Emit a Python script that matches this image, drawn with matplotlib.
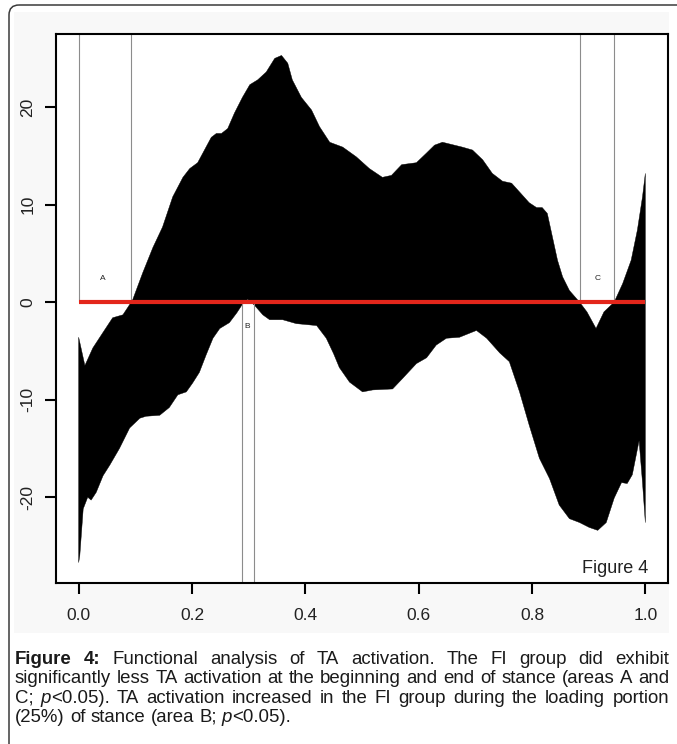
import re
import numpy as np
import matplotlib
matplotlib.use('Agg')
import matplotlib.pyplot as plt
from matplotlib.patches import Rectangle, FancyBboxPatch

plt.rcParams['font.family'] = ['Liberation Sans', 'DejaVu Sans']

# upper edge of the black band
upper_x = [0.0, 0.011, 0.025, 0.043, 0.06, 0.078, 0.086, 0.095, 0.113, 0.131, 0.148,
           0.166, 0.184, 0.196, 0.21, 0.222, 0.234, 0.243, 0.252, 0.263, 0.275, 0.289,
           0.302, 0.316, 0.331, 0.346, 0.358, 0.369, 0.377, 0.393, 0.411, 0.425, 0.443,
           0.466, 0.49, 0.513, 0.536, 0.552, 0.57, 0.596, 0.614, 0.628, 0.642, 0.677,
           0.695, 0.713, 0.73, 0.748, 0.764, 0.778, 0.795, 0.808, 0.818, 0.827, 0.836,
           0.845, 0.854, 0.866, 0.878, 0.884, 0.897, 0.913, 0.927, 0.945, 0.96, 0.975,
           0.986, 0.995, 1.0]
upper_y = [-3.6, -6.5, -4.7, -3.1, -1.6, -1.3, -0.6, 0.2, 3.0, 5.6, 7.7,
           10.8, 12.8, 13.7, 14.3, 15.6, 16.9, 17.3, 17.3, 17.8, 19.4, 21.0,
           22.3, 22.8, 23.6, 25.0, 25.3, 24.5, 22.8, 21.0, 19.7, 18.0, 16.4,
           15.9, 14.9, 13.7, 12.8, 13.0, 14.1, 14.3, 15.3, 16.1, 16.4, 15.9,
           15.6, 14.6, 13.2, 12.4, 12.2, 11.3, 10.2, 9.7, 9.7, 9.1, 6.7,
           4.3, 2.6, 1.2, 0.4, 0.0, -1.0, -2.7, -1.0, 0.0, 1.9, 4.3,
           7.4, 10.8, 13.2]

# lower edge of the black band
lower_x = [0.0, 0.002, 0.008, 0.016, 0.022, 0.031, 0.043, 0.055, 0.072, 0.09, 0.108,
           0.119, 0.143, 0.16, 0.175, 0.19, 0.201, 0.213, 0.225, 0.237, 0.249, 0.266,
           0.279, 0.288, 0.298, 0.31, 0.325, 0.337, 0.36, 0.384, 0.42, 0.437, 0.45,
           0.46, 0.478, 0.501, 0.519, 0.554, 0.572, 0.596, 0.614, 0.631, 0.649, 0.672,
           0.702, 0.72, 0.743, 0.76, 0.778, 0.795, 0.813, 0.831, 0.848, 0.866, 0.884,
           0.901, 0.916, 0.931, 0.945, 0.958, 0.968, 0.977, 0.989, 0.995, 1.0]
lower_y = [-26.7, -26.0, -21.2, -20.0, -20.3, -19.5, -17.8, -16.7, -15.0, -12.9, -11.9,
           -11.7, -11.6, -10.8, -9.5, -9.2, -8.3, -7.2, -5.4, -3.7, -2.7, -2.1,
           -1.1, -0.3, 0.3, -0.3, -1.3, -1.8, -1.8, -2.2, -2.4, -3.7, -5.3,
           -6.7, -8.2, -9.2, -9.0, -8.9, -7.8, -6.3, -5.7, -4.4, -3.7, -3.6,
           -2.9, -3.7, -5.2, -6.1, -9.2, -12.6, -16.0, -18.1, -20.8, -22.2, -22.6,
           -23.1, -23.4, -22.6, -20.1, -18.5, -18.6, -17.7, -14.2, -18.5, -22.6]

# borders of the significant areas
lines_above = [0.0, 0.092, 0.885, 0.945]
lines_below = [0.288, 0.309]
area_names = ['A', 'B', 'C']
area_x = [0.043, 0.297, 0.915]
area_y = [2.4, -2.5, 2.4]

x_ticks = [0.0, 0.2, 0.4, 0.6, 0.8, 1.0]
y_ticks = [-20, -10, 0, 10, 20]

caption = [
    "**Figure** **4:** Functional analysis of TA activation. The FI group did exhibit",
    "significantly less TA activation at the beginning and end of stance (areas A and",
    "C; *p*<0.05). TA activation increased in the FI group during the loading portion",
    "(25%) of stance (area B; *p*<0.05).",
]

W, H = 677, 744
fig = plt.figure(figsize=(W / 100, H / 100), dpi=100)

# page layer in pixel units
bg = fig.add_axes([0, 0, 1, 1], zorder=0)
bg.set_xlim(0, W)
bg.set_ylim(H, 0)
bg.axis('off')
bg.add_patch(Rectangle((14, 12), 655, 621, color='#f8f8f8', lw=0))
bg.add_patch(FancyBboxPatch((9, 5), 720, 800, boxstyle='round,pad=0,rounding_size=10',
                            fill=False, ec='#3a3a3a', lw=1.1))

ax = fig.add_axes([56 / W, 1 - 583 / H, 612 / W, 549 / H], zorder=1)
ax.set_facecolor('white')
ylo, yhi = -28.8, 27.5
ax.set_xlim(-0.04, 1.04)
ax.set_ylim(ylo, yhi)

ax.fill(np.concatenate([upper_x, lower_x[::-1]]),
        np.concatenate([upper_y, lower_y[::-1]]),
        color='black', lw=0.3, ec='black', joinstyle='round')
ax.vlines(lines_above, 0, yhi, colors='#8c8c8c', lw=0.8)
ax.vlines(lines_below, ylo, 0, colors='#8c8c8c', lw=0.8)
ax.plot([0, 1], [0, 0], color='#e3261b', lw=3.0, solid_capstyle='butt')
for name, x, y in zip(area_names, area_x, area_y):
    ax.text(x, y, name, fontsize=6, ha='center', va='center', color='#222222')
ax.text(0.967, 0.018, 'Figure 4', transform=ax.transAxes, fontsize=13,
        ha='right', va='baseline', color='#222222')

for s in ax.spines.values():
    s.set_linewidth(1.5)
ax.set_xticks(x_ticks)
ax.set_xticklabels(['%.1f' % v for v in x_ticks])
ax.set_yticks(y_ticks)
ax.set_yticklabels(['%d' % v for v in y_ticks], rotation=90, va='center')
ax.tick_params(direction='out', length=8, width=1.5, labelsize=12.5,
               labelcolor='#222222')
ax.tick_params(axis='x', pad=10)
ax.tick_params(axis='y', pad=7)


# justified caption
def segments(word):
    out = []
    for part in re.split(r'(\*\*[^*]+\*\*|\*[^*]+\*)', word):
        if not part:
            continue
        if part.startswith('**'):
            out.append((part[2:-2], 'bold', 'normal'))
        elif part.startswith('*'):
            out.append((part[1:-1], 'normal', 'italic'))
        else:
            out.append((part, 'normal', 'normal'))
    return out


renderer = fig.canvas.get_renderer()


def make_line(line, size):
    words = []
    for w in line.split(' '):
        parts = []
        for txt, weight, style in segments(w):
            t = bg.text(0, 0, txt, fontsize=size, fontweight=weight, fontstyle=style,
                        va='baseline', ha='left', color='#1a1a1a')
            parts.append((t, t.get_window_extent(renderer).width))
        words.append(parts)
    return words


def line_width(words):
    return sum(wd for parts in words for _, wd in parts)


x0, x1 = 15, 669
probe = make_line(caption[1], 10)
space10 = 0.278 * 10 * 100 / 72
natural = line_width(probe) + space10 * (len(probe) - 1)
for parts in probe:
    for t, _ in parts:
        t.remove()
size = 10 * (x1 - x0) / natural
space = 0.278 * size * 100 / 72

baselines = [664, 683.3, 702.7, 722]
for i, (line, yb) in enumerate(zip(caption, baselines)):
    words = make_line(line, size)
    if i < len(caption) - 1:
        gap = (x1 - x0 - line_width(words)) / (len(words) - 1)
    else:
        gap = space
    x = x0
    for parts in words:
        for t, wd in parts:
            t.set_position((x, yb))
            x += wd
        x += gap

fig.savefig('out.png', dpi=100)
